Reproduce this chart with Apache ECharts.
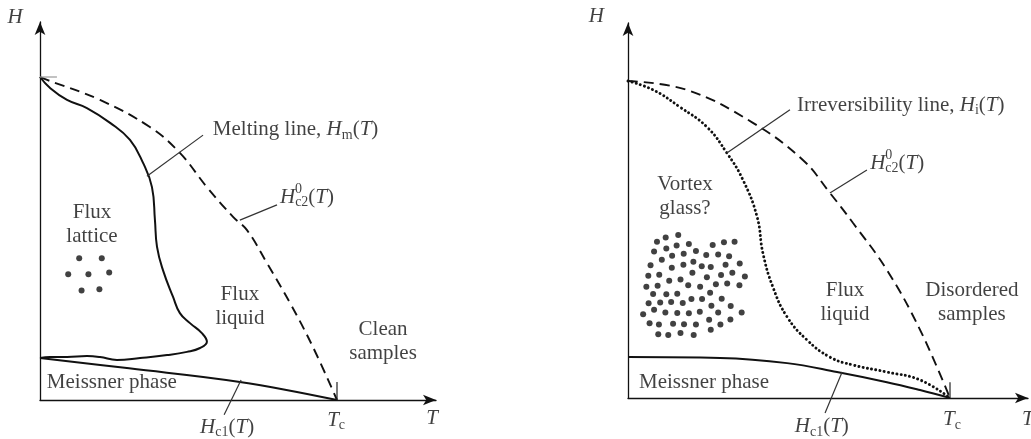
<!DOCTYPE html>
<html>
<head>
<meta charset="utf-8">
<script src="https://cdn.jsdelivr.net/npm/echarts@6/dist/echarts.min.js"></script>
<style>
  html, body { margin: 0; padding: 0; background: #fff; }
  #chart { width: 1031px; height: 439px; }
</style>
</head>
<body>
<div id="chart"></div>
<script>
// Temperature in units of Tc, field in units of Hc2(0).

// ---- Clean samples (left diagram) ----
const cleanHc2 = [[0, 1], [0.024, 0.991], [0.202, 0.929], [0.370, 0.845], [0.471, 0.765], [0.562, 0.659],
  [0.650, 0.567], [0.697, 0.526], [0.764, 0.424], [0.842, 0.300], [0.919, 0.164], [1, 0]];
const cleanMelting = [[0, 1], [0.034, 0.966], [0.091, 0.929], [0.158, 0.904], [0.236, 0.858], [0.303, 0.805],
  [0.347, 0.734], [0.377, 0.659], [0.387, 0.557], [0.394, 0.474], [0.414, 0.402], [0.448, 0.319],
  [0.471, 0.269], [0.505, 0.238], [0.545, 0.207], [0.562, 0.180], [0.539, 0.161], [0.495, 0.149],
  [0.428, 0.139], [0.337, 0.130], [0.259, 0.124], [0.202, 0.133], [0.158, 0.136], [0.091, 0.133],
  [0.034, 0.133], [0, 0.130]];
const cleanHc1 = [[0, 0.130], [0.30, 0.098], [0.673, 0.056], [1, 0]];
const latticeVortices = [[0.132, 0.439], [0.208, 0.439], [0.095, 0.389], [0.163, 0.389], [0.233, 0.395],
  [0.140, 0.339], [0.200, 0.343]];

// ---- Disordered samples (right diagram) ----
const dirtyHc2 = [[0, 1], [0.183, 0.972], [0.388, 0.868], [0.543, 0.751], [0.627, 0.647], [0.699, 0.552],
  [0.804, 0.404], [0.907, 0.215], [1, 0]];
const irreversibility = [[0, 1], [0.078, 0.972], [0.161, 0.918], [0.245, 0.855], [0.307, 0.773],
  [0.357, 0.688], [0.401, 0.571], [0.419, 0.457], [0.450, 0.350], [0.494, 0.256], [0.556, 0.183],
  [0.627, 0.129], [0.699, 0.104], [0.804, 0.082], [0.907, 0.057], [1, 0]];
const dirtyHc1 = [[0, 0.129], [0.286, 0.126], [0.494, 0.110], [0.649, 0.082], [0.804, 0.050], [0.907, 0.025], [1, 0]];
const glassVortices = [
  [0.156, 0.514], [0.117, 0.506], [0.090, 0.493], [0.189, 0.486], [0.151, 0.481], [0.119, 0.472],
  [0.298, 0.491], [0.331, 0.493], [0.263, 0.483], [0.081, 0.462], [0.211, 0.464], [0.173, 0.455],
  [0.243, 0.451], [0.280, 0.453], [0.314, 0.447], [0.137, 0.449], [0.105, 0.436], [0.070, 0.419],
  [0.203, 0.430], [0.172, 0.420], [0.136, 0.411], [0.229, 0.416], [0.257, 0.413], [0.303, 0.420],
  [0.347, 0.424], [0.063, 0.386], [0.097, 0.389], [0.200, 0.395], [0.289, 0.388], [0.324, 0.395],
  [0.363, 0.383], [0.128, 0.370], [0.163, 0.374], [0.245, 0.381], [0.057, 0.351], [0.092, 0.354],
  [0.187, 0.356], [0.224, 0.351], [0.273, 0.359], [0.308, 0.361], [0.346, 0.356], [0.078, 0.328],
  [0.119, 0.327], [0.153, 0.329], [0.255, 0.332], [0.064, 0.299], [0.100, 0.301], [0.134, 0.303],
  [0.170, 0.300], [0.197, 0.312], [0.230, 0.312], [0.291, 0.313], [0.047, 0.264], [0.081, 0.278],
  [0.116, 0.270], [0.153, 0.268], [0.189, 0.267], [0.223, 0.272], [0.259, 0.291], [0.319, 0.290],
  [0.353, 0.270], [0.280, 0.270], [0.067, 0.236], [0.096, 0.232], [0.140, 0.234], [0.174, 0.233],
  [0.211, 0.232], [0.252, 0.247], [0.287, 0.232], [0.318, 0.248], [0.257, 0.215], [0.094, 0.201],
  [0.125, 0.199], [0.163, 0.205], [0.204, 0.199]];

// ---- drawing helpers ----
const FONT = '"Liberation Serif", "DejaVu Serif", serif';
const INK = '#111';
const rich = {
  r:  { fontFamily: FONT, fontSize: 21, color: INK, lineHeight: 24 },
  i:  { fontFamily: FONT, fontSize: 21, color: INK, fontStyle: 'italic', lineHeight: 24 },
  sb: { fontFamily: FONT, fontSize: 14, color: INK, lineHeight: 14, verticalAlign: 'bottom' },
  sp: { fontFamily: FONT, fontSize: 14, color: INK, lineHeight: 14, verticalAlign: 'top' }
};

function curve(grid, data, style, smooth) {
  return {
    type: 'line', xAxisIndex: grid, yAxisIndex: grid, data: data, smooth: smooth,
    symbol: 'none', clip: false, silent: true, z: 3,
    lineStyle: Object.assign({ color: '#111', width: 2 }, style)
  };
}
function segment(grid, a, b, style) {
  return curve(grid, [a, b], Object.assign({ width: 1.2, color: '#333' }, style), false);
}
function dots(grid, data) {
  return {
    type: 'scatter', xAxisIndex: grid, yAxisIndex: grid, data: data, symbol: 'circle',
    symbolSize: 6, itemStyle: { color: '#111' }, silent: true, clip: false, z: 4
  };
}
function notes(grid, list) {
  return {
    type: 'scatter', xAxisIndex: grid, yAxisIndex: grid, symbolSize: 0, silent: true, clip: false, z: 5,
    data: list.map(n => ({
      value: n.at,
      label: {
        show: true, position: 'inside', formatter: n.text, rich: rich,
        align: n.align || 'center', verticalAlign: 'middle', offset: n.offset || [0, 0],
        fontFamily: FONT, fontSize: 21, color: INK, lineHeight: 24
      }
    }))
  };
}

const DASH = { type: [10, 6], width: 1.9 };
const DOT = { type: [0.1, 4.2], width: 2.9, cap: 'round' };

const series = [
  // left diagram
  curve(0, cleanHc2, DASH, 0.4),
  curve(0, cleanMelting, { width: 2 }, 0.45),
  curve(0, cleanHc1, { width: 2 }, 0.4),
  segment(0, [0, 1], [0.057, 1], { color: '#999', width: 1.2 }),
  segment(0, [1, 0], [1, 0.056], { color: '#222', width: 1.2 }),
  segment(0, [0.360, 0.693], [0.549, 0.820]),
  segment(0, [0.673, 0.557], [0.798, 0.604]),
  segment(0, [0.620, -0.046], [0.677, 0.062]),
  dots(0, latticeVortices),
  notes(0, [
    { at: [-0.084, 1.183], text: '{i|H}' },
    { at: [0.582, 0.836], text: '{r|Melting line, }{i|H}{sb|m}{r|(}{i|T}{r|)}', align: 'left' },
    { at: [0.808, 0.628], text: '{i|H}{sb|c2}{r|(}{i|T}{r|)}', align: 'left' },
    { at: [0.808, 0.628], text: '{sp|0}', align: 'left', offset: [15, -8] },
    { at: [0.175, 0.543], text: 'Flux\nlattice' },
    { at: [0.673, 0.291], text: 'Flux\nliquid' },
    { at: [1.155, 0.181], text: 'Clean\nsamples' },
    { at: [0.242, 0.053], text: 'Meissner phase' },
    { at: [0.630, -0.084], text: '{i|H}{sb|c1}{r|(}{i|T}{r|)}' },
    { at: [0.997, -0.062], text: '{i|T}{sb|c}' },
    { at: [1.320, -0.056], text: '{i|T}' }
  ]),
  // right diagram
  curve(1, dirtyHc2, DASH, 0.4),
  curve(1, irreversibility, DOT, 0.45),
  curve(1, dirtyHc1, { width: 2 }, 0.4),
  segment(1, [1, 0], [1, 0.05], { color: '#222', width: 1.2 }),
  segment(1, [0.307, 0.773], [0.503, 0.909]),
  segment(1, [0.627, 0.647], [0.742, 0.719]),
  segment(1, [0.665, 0.082], [0.612, -0.047]),
  dots(1, glassVortices),
  notes(1, [
    { at: [-0.098, 1.202], text: '{i|H}' },
    { at: [0.525, 0.924], text: '{r|Irreversibility line, }{i|H}{sb|i}{r|(}{i|T}{r|)}', align: 'left' },
    { at: [0.752, 0.741], text: '{i|H}{sb|c2}{r|(}{i|T}{r|)}', align: 'left' },
    { at: [0.752, 0.741], text: '{sp|0}', align: 'left', offset: [15, -8] },
    { at: [0.177, 0.636], text: 'Vortex\nglass?' },
    { at: [0.674, 0.301], text: 'Flux\nliquid' },
    { at: [1.068, 0.301], text: 'Disordered\nsamples' },
    { at: [0.236, 0.050], text: 'Meissner phase' },
    { at: [0.602, -0.091], text: '{i|H}{sb|c1}{r|(}{i|T}{r|)}' },
    { at: [1.006, -0.069], text: '{i|T}{sb|c}' },
    { at: [1.242, -0.069], text: '{i|T}' }
  ])
];

function axis(max) {
  return {
    type: 'value', min: 0, max: max,
    axisLine: { show: true, onZero: false, symbol: ['none', 'arrow'], symbolSize: [8, 13],
      lineStyle: { color: '#111', width: 1.3 } },
    axisTick: { show: false }, axisLabel: { show: false }, splitLine: { show: false }
  };
}

const chart = echarts.init(document.getElementById('chart'), null, { renderer: 'canvas' });
chart.setOption({
  animation: false,
  backgroundColor: '#ffffff',
  grid: [
    { left: 40, top: 22, width: 396, height: 378 },
    { left: 628, top: 23, width: 400, height: 375 }
  ],
  xAxis: [Object.assign(axis(396 / 297), { gridIndex: 0 }), Object.assign(axis(400 / 322), { gridIndex: 1 })],
  yAxis: [Object.assign(axis(378 / 323), { gridIndex: 0 }), Object.assign(axis(375 / 317), { gridIndex: 1 })],
  series: series
});
</script>
</body>
</html>
